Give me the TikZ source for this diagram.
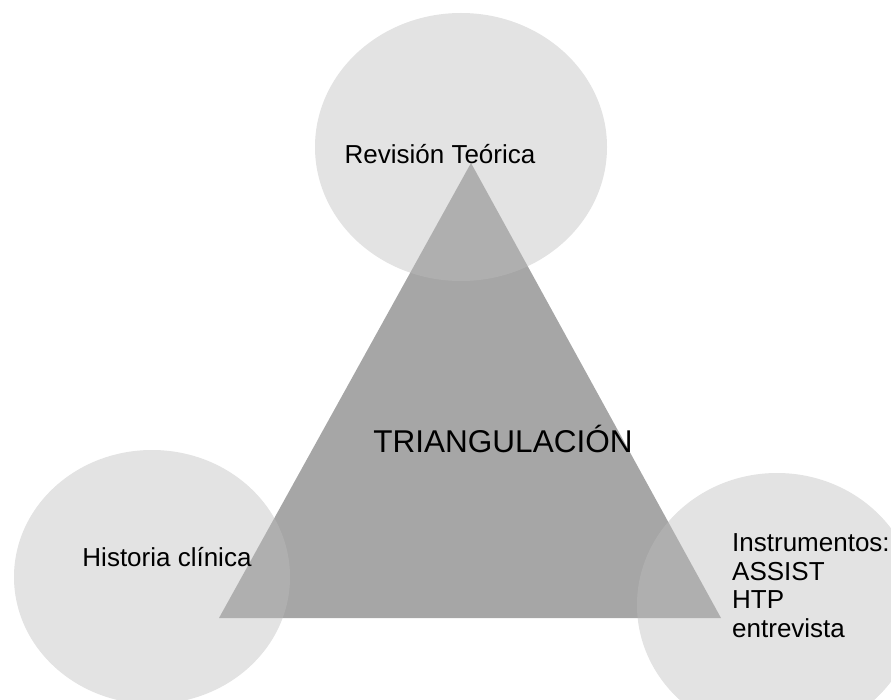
\documentclass[tikz,border=0pt]{standalone}
\usepackage{fontspec}
\setmainfont{Liberation Sans}
\usetikzlibrary{shapes.geometric, positioning}

\begin{document}
\begin{tikzpicture}[
    x=1pt, y=-1pt,
    blob/.style={ellipse, fill=black!26, fill opacity=0.43, inner sep=0pt},
    txt/.style={font=\fontsize{26}{28.5}\selectfont, inner sep=0pt, anchor=base}
]
\useasboundingbox (0,0) rectangle (891,700);

% Triangle
\coordinate (apex) at (471,163);
\coordinate (bl) at (219,618);
\coordinate (br) at (721,618);
\fill[black!35] (apex) -- (bl) -- (br) -- cycle;

% Circles
\node[blob, minimum width=292pt, minimum height=268pt] (top) at (461,147) {};
\node[blob, minimum width=276pt, minimum height=254pt] (left) at (152,577) {};
\node[blob, minimum width=280pt, minimum height=264pt] (right) at (777,605) {};

% Labels
\node[txt, font=\fontsize{31.5}{36}\selectfont] (mid) at (503,452) {TRIANGULACIÓN};
\node[txt] (ttop) at (440,164) {Revisión Teórica};
\node[txt] (tleft) at (167,566) {Historia clínica};
\node[txt, anchor=base west, align=left] (tright) at (732,637) {Instrumentos:\\ASSIST\\HTP\\entrevista};
\end{tikzpicture}
\end{document}
